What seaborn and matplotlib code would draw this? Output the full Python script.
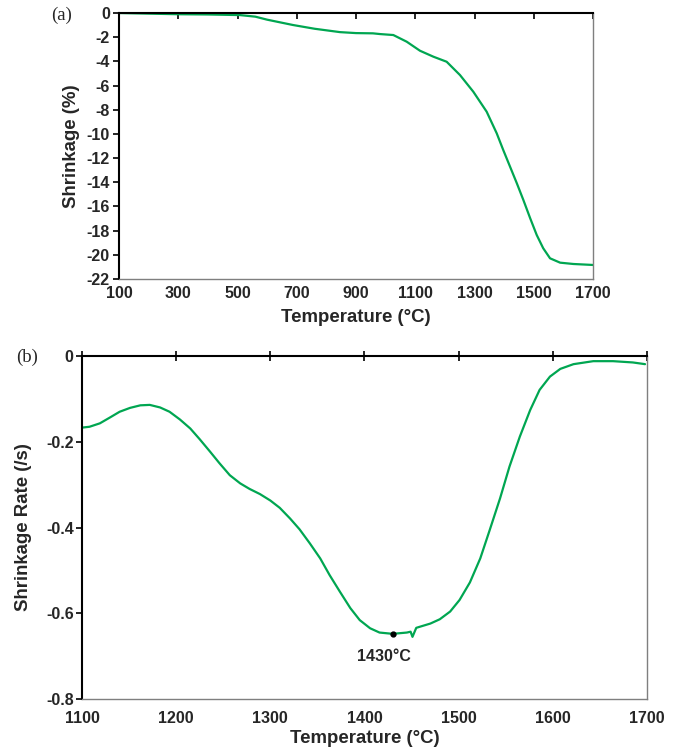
import matplotlib
matplotlib.use("Agg")
import matplotlib.pyplot as plt
import seaborn as sns
import pandas as pd

# ---- data ----
temp_a = [100, 200, 300, 400, 508, 560, 600, 687, 760, 846, 900, 957, 981, 1026,
          1071, 1116, 1161, 1206, 1251, 1296, 1341, 1375, 1397, 1420, 1443, 1465,
          1488, 1510, 1532, 1555, 1589, 1634, 1700]
shrink_a = [0, -0.05, -0.1, -0.12, -0.17, -0.3, -0.55, -0.99, -1.3, -1.58, -1.66, -1.68,
            -1.74, -1.82, -2.37, -3.12, -3.61, -4.03, -5.13, -6.51, -8.16, -9.95, -11.33,
            -12.71, -14.09, -15.47, -16.98, -18.36, -19.46, -20.29, -20.65, -20.76, -20.84]

temp_b = [1100, 1108, 1119, 1130, 1140, 1151, 1162, 1172, 1183, 1193, 1204, 1215, 1225,
          1236, 1246, 1257, 1268, 1278, 1289, 1300, 1310, 1321, 1331, 1342, 1353, 1363,
          1374, 1385, 1395, 1406, 1416, 1430, 1445, 1449, 1451, 1455, 1470, 1480, 1491,
          1501, 1512, 1523, 1533, 1544, 1554, 1565, 1576, 1586, 1597, 1608, 1622, 1643,
          1664, 1685, 1698]
rate_b = [-0.167, -0.165, -0.157, -0.143, -0.130, -0.121, -0.115, -0.114, -0.120, -0.130,
          -0.148, -0.169, -0.194, -0.223, -0.250, -0.278, -0.297, -0.310, -0.322, -0.337,
          -0.354, -0.379, -0.404, -0.437, -0.472, -0.511, -0.550, -0.588, -0.616, -0.635,
          -0.645, -0.648, -0.645, -0.643, -0.655, -0.634, -0.624, -0.614, -0.596, -0.569,
          -0.528, -0.472, -0.406, -0.332, -0.258, -0.188, -0.126, -0.079, -0.048, -0.030,
          -0.019, -0.012, -0.012, -0.015, -0.019]

xticks_a = [100, 300, 500, 700, 900, 1100, 1300, 1500, 1700]
yticks_a = [0, -2, -4, -6, -8, -10, -12, -14, -16, -18, -20, -22]
xticks_b = [1100, 1200, 1300, 1400, 1500, 1600, 1700]
yticks_b = [0, -0.2, -0.4, -0.6, -0.8]
yticklabels_b = ["0", "-0.2", "-0.4", "-0.6", "-0.8"]

peak_temp = 1430
peak_rate = -0.648
peak_label = "1430°C"

GREEN = "#00a651"

sns.set_style("white")
plt.rcParams["font.family"] = ["Liberation Sans", "DejaVu Sans"]
plt.rcParams["font.weight"] = "bold"

fig = plt.figure(figsize=(6.82, 7.53), dpi=100)
ax_a = fig.add_axes([0.1745, 0.6295, 0.695, 0.3532])
ax_b = fig.add_axes([0.1202, 0.0717, 0.8284, 0.4555])

df_a = pd.DataFrame({"T": temp_a, "S": shrink_a})
df_b = pd.DataFrame({"T": temp_b, "R": rate_b})

sns.lineplot(data=df_a, x="T", y="S", ax=ax_a, color=GREEN, linewidth=1.6)
sns.lineplot(data=df_b, x="T", y="R", ax=ax_b, color=GREEN, linewidth=1.6)

for ax in (ax_a, ax_b):
    for side in ("left", "top"):
        ax.spines[side].set_color("black")
        ax.spines[side].set_linewidth(1.5)
        ax.spines[side].set_visible(True)
    for side in ("right", "bottom"):
        ax.spines[side].set_color("#7f7f7f")
        ax.spines[side].set_linewidth(1.0)
        ax.spines[side].set_visible(True)

TICK_FS = 11.5
LABEL_FS = 13.4

# panel (a)
ax_a.set_xlim(100, 1700)
ax_a.set_ylim(-22, 0)
ax_a.set_xticks(xticks_a)
ax_a.set_yticks(yticks_a)
ax_a.set_yticklabels([str(v) for v in yticks_a])
ax_a.tick_params(axis="x", bottom=False, top=True, labelbottom=True, labeltop=False,
                 direction="in", length=4, width=1.2, pad=5, labelsize=TICK_FS, color="black")
ax_a.tick_params(axis="y", left=True, direction="out", length=4, width=1.2, pad=2.5,
                 labelsize=TICK_FS, color="black")
ax_a.set_xlabel("Temperature (°C)", fontsize=LABEL_FS, fontweight="bold", labelpad=6)
ax_a.set_ylabel("Shrinkage (%)", fontsize=LABEL_FS, fontweight="bold", labelpad=5)

# panel (b)
ax_b.set_xlim(1100, 1700)
ax_b.set_ylim(-0.8, 0)
ax_b.set_xticks(xticks_b)
ax_b.set_yticks(yticks_b)
ax_b.set_yticklabels(yticklabels_b)
ax_b.tick_params(axis="x", bottom=False, top=True, labelbottom=True, labeltop=False,
                 direction="inout", length=7, width=1.2, pad=5, labelsize=TICK_FS, color="black")
ax_b.tick_params(axis="y", left=True, direction="out", length=4, width=1.2, pad=2,
                 labelsize=TICK_FS, color="black")
ax_b.set_xlabel("Temperature (°C)", fontsize=LABEL_FS, fontweight="bold", labelpad=3)
ax_b.set_ylabel("Shrinkage Rate (/s)", fontsize=LABEL_FS, fontweight="bold", labelpad=10)

ax_b.plot([peak_temp], [peak_rate], "o", color="black", markersize=3.5, zorder=5)
ax_b.annotate(peak_label, xy=(peak_temp, peak_rate), xytext=(-6, -16),
              textcoords="offset points", ha="center", va="center",
              fontsize=TICK_FS, fontweight="bold")

fig.text(0.0905, 0.980, "(a)", family=["Liberation Serif", "DejaVu Serif"],
         fontsize=13.5, fontweight="normal", ha="center", va="center")
fig.text(0.039, 0.525, "(b)", family=["Liberation Serif", "DejaVu Serif"],
         fontsize=13.5, fontweight="normal", ha="center", va="center")

fig.savefig("out.png", dpi=100)
